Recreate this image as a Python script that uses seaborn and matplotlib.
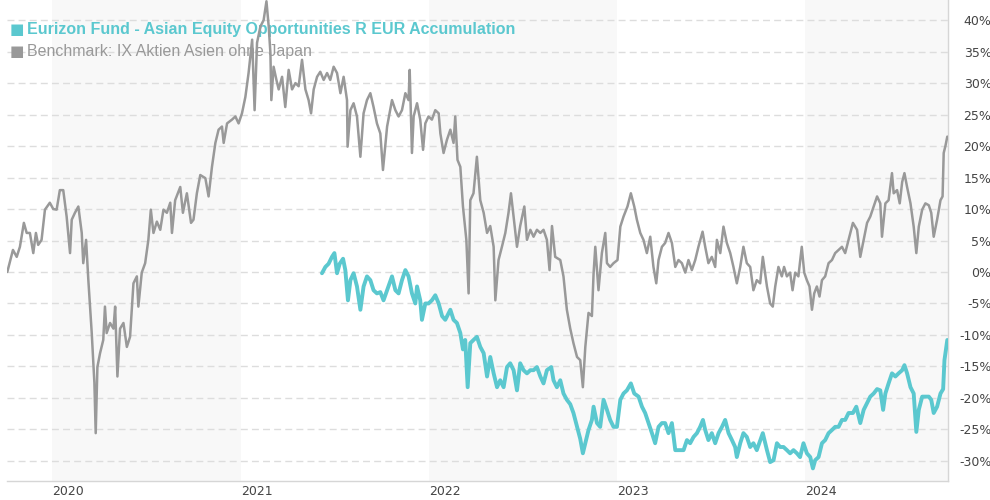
import numpy as np
import pandas as pd
import seaborn as sns
import matplotlib.pyplot as plt
import matplotlib.dates as mdates
from matplotlib.ticker import FixedLocator, FuncFormatter

# Benchmark: IX Aktien Asien ohne Japan (time in decimal years, value in %)
bench_t = [
    2019.763, 2019.793, 2019.813, 2019.830, 2019.851, 2019.866, 2019.883, 2019.901, 2019.915, 2019.927,
    2019.945, 2019.963, 2019.989, 2020.007, 2020.025, 2020.042, 2020.060, 2020.078, 2020.096, 2020.105,
    2020.122, 2020.140, 2020.158, 2020.166, 2020.181, 2020.193, 2020.211, 2020.225, 2020.232, 2020.241,
    2020.255, 2020.272, 2020.281, 2020.290, 2020.308, 2020.326, 2020.335, 2020.347, 2020.361, 2020.379,
    2020.397, 2020.414, 2020.432, 2020.450, 2020.458, 2020.476, 2020.494, 2020.511, 2020.524, 2020.538,
    2020.556, 2020.574, 2020.591, 2020.609, 2020.627, 2020.636, 2020.653, 2020.680, 2020.694, 2020.715,
    2020.737, 2020.750, 2020.768, 2020.786, 2020.813, 2020.830, 2020.848, 2020.866, 2020.883, 2020.901,
    2020.910, 2020.928, 2020.954, 2020.972, 2020.989, 2021.007, 2021.025, 2021.042, 2021.061, 2021.074,
    2021.087, 2021.105, 2021.122, 2021.137, 2021.149, 2021.158, 2021.163, 2021.175, 2021.190, 2021.202,
    2021.220, 2021.237, 2021.255, 2021.273, 2021.291, 2021.308, 2021.326, 2021.344, 2021.361, 2021.374,
    2021.388, 2021.406, 2021.423, 2021.441, 2021.459, 2021.476, 2021.494, 2021.512, 2021.530, 2021.547,
    2021.565, 2021.568, 2021.583, 2021.600, 2021.618, 2021.636, 2021.653, 2021.671, 2021.689, 2021.706,
    2021.724, 2021.742, 2021.756, 2021.778, 2021.804, 2021.822, 2021.839, 2021.857, 2021.875, 2021.892,
    2021.898, 2021.910, 2021.919, 2021.937, 2021.954, 2021.969, 2021.981, 2021.998, 2022.016, 2022.034,
    2022.052, 2022.061, 2022.078, 2022.096, 2022.114, 2022.131, 2022.140, 2022.152, 2022.167, 2022.181,
    2022.199, 2022.211, 2022.220, 2022.237, 2022.255, 2022.273, 2022.291, 2022.309, 2022.326, 2022.344,
    2022.353, 2022.370, 2022.388, 2022.406, 2022.423, 2022.436, 2022.450, 2022.468, 2022.485, 2022.507,
    2022.521, 2022.539, 2022.556, 2022.574, 2022.592, 2022.609, 2022.627, 2022.641, 2022.654, 2022.671,
    2022.698, 2022.715, 2022.733, 2022.751, 2022.768, 2022.787, 2022.804, 2022.818, 2022.831, 2022.848,
    2022.866, 2022.875, 2022.884, 2022.901, 2022.919, 2022.937, 2022.946, 2022.963, 2022.981, 2023.002,
    2023.017, 2023.034, 2023.055, 2023.073, 2023.091, 2023.105, 2023.123, 2023.140, 2023.158, 2023.176,
    2023.193, 2023.208, 2023.220, 2023.238, 2023.255, 2023.273, 2023.291, 2023.309, 2023.326, 2023.344,
    2023.362, 2023.379, 2023.397, 2023.415, 2023.432, 2023.454, 2023.468, 2023.485, 2023.503, 2023.521,
    2023.530, 2023.548, 2023.565, 2023.583, 2023.601, 2023.618, 2023.636, 2023.654, 2023.671, 2023.689,
    2023.707, 2023.724, 2023.742, 2023.760, 2023.774, 2023.796, 2023.813, 2023.827, 2023.840, 2023.857,
    2023.875, 2023.887, 2023.902, 2023.919, 2023.932, 2023.946, 2023.963, 2023.981, 2023.994, 2024.008,
    2024.022, 2024.035, 2024.047, 2024.061, 2024.075, 2024.088, 2024.105, 2024.123, 2024.141, 2024.158,
    2024.176, 2024.194, 2024.211, 2024.229, 2024.252, 2024.274, 2024.291, 2024.309, 2024.327, 2024.344,
    2024.362, 2024.380, 2024.397, 2024.406, 2024.424, 2024.441, 2024.459, 2024.468, 2024.486, 2024.500,
    2024.513, 2024.525, 2024.539, 2024.557, 2024.574, 2024.588, 2024.601, 2024.619, 2024.636, 2024.654,
    2024.667, 2024.680, 2024.698, 2024.716, 2024.727, 2024.733, 2024.742, 2024.752,
]
bench_v = [
    0.0, 3.5, 2.4, 4.0, 7.8, 6.2, 6.2, 3.0, 6.2, 4.3,
    5.1, 9.9, 11.0, 10.0, 9.9, 13.0, 13.0, 8.8, 3.0, 8.3,
    9.4, 10.4, 6.2, 1.4, 5.1, -1.3, -9.7, -17.6, -25.6, -15.1,
    -12.9, -10.8, -5.5, -9.7, -8.1, -9.0, -5.5, -16.6, -9.0, -8.1,
    -11.9, -10.3, -1.8, -0.7, -5.5, -0.1, 1.4, 5.1, 9.9, 6.2,
    8.0, 6.7, 9.9, 9.4, 11.0, 6.2, 11.4, 13.5, 9.4, 12.5,
    7.8, 8.3, 12.5, 15.4, 14.9, 12.0, 16.7, 20.5, 22.6, 23.1,
    20.5, 23.6, 24.2, 24.7, 23.6, 25.2, 27.8, 31.6, 36.9, 25.7,
    36.4, 39.0, 40.0, 43.0, 39.0, 34.8, 27.3, 32.6, 30.5, 29.0,
    31.0, 26.2, 32.1, 29.0, 30.0, 29.5, 33.7, 29.0, 27.3, 25.2,
    29.0, 31.0, 31.8, 30.5, 31.6, 30.5, 32.6, 31.6, 28.4, 31.0,
    27.3, 19.9, 25.7, 26.8, 24.7, 18.3, 25.2, 27.3, 28.4, 26.2,
    23.6, 22.0, 16.2, 23.1, 27.3, 25.7, 24.7, 25.7, 28.4, 27.3,
    32.1, 18.9, 24.7, 26.8, 24.2, 19.4, 23.6, 24.7, 24.2, 25.7,
    25.2, 22.0, 18.9, 21.0, 22.6, 20.5, 24.7, 17.8, 16.7, 10.4,
    5.1, -3.4, 11.4, 12.5, 18.3, 11.4, 9.4, 6.2, 7.3, 4.0,
    -4.5, 1.9, 4.0, 6.2, 9.4, 12.5, 8.8, 4.0, 7.3, 10.4,
    5.1, 6.7, 5.6, 6.7, 6.2, 6.7, 5.1, 0.3, 7.3, 2.4,
    1.9, -0.7, -6.0, -9.0, -11.3, -13.5, -14.0, -18.3, -11.9, -6.5,
    -7.0, -0.2, 4.0, -2.9, 3.0, 6.2, 1.4, 0.8, 1.4, 1.9,
    7.2, 8.8, 10.4, 12.5, 10.4, 8.3, 6.2, 5.1, 3.0, 5.6,
    0.8, -1.8, 1.9, 4.0, 4.6, 6.2, 4.6, 0.8, 1.9, 1.4,
    -0.1, 1.9, 0.3, 1.9, 4.0, 6.4, 4.0, 1.4, 2.4, 0.8,
    5.1, 3.0, 7.2, 4.6, 3.0, 0.8, -1.8, 0.8, 4.0, 1.4,
    0.8, -2.9, -1.3, -1.8, 2.4, -2.3, -5.0, -5.5, -2.3, 0.8,
    -0.7, 0.8, -0.7, -0.1, -2.9, -0.1, -0.7, 4.0, -0.1, -1.3,
    -2.3, -6.0, -3.4, -2.3, -3.9, -1.3, -0.7, 1.4, 1.9, 3.0,
    3.5, 4.0, 3.0, 5.1, 7.8, 6.7, 2.4, 5.1, 7.8, 8.8,
    10.4, 12.0, 10.9, 5.6, 10.9, 11.4, 15.7, 12.5, 13.0, 10.9,
    14.3, 15.7, 13.5, 10.9, 7.2, 3.0, 7.2, 9.9, 10.9, 10.6,
    9.4, 5.6, 8.3, 11.4, 12.0, 18.9, 20.0, 21.5,
]

# Eurizon Fund - Asian Equity Opportunities R EUR Accumulation
fund_t = [
    2021.432, 2021.450, 2021.467, 2021.485, 2021.498, 2021.512, 2021.526, 2021.544, 2021.556, 2021.570,
    2021.583, 2021.600, 2021.618, 2021.636, 2021.653, 2021.671, 2021.689, 2021.706, 2021.724, 2021.742,
    2021.759, 2021.778, 2021.804, 2021.822, 2021.839, 2021.857, 2021.875, 2021.892, 2021.910, 2021.928,
    2021.937, 2021.954, 2021.963, 2021.981, 2021.998, 2022.016, 2022.034, 2022.052, 2022.070, 2022.087,
    2022.114, 2022.131, 2022.149, 2022.167, 2022.181, 2022.193, 2022.206, 2022.220, 2022.237, 2022.255,
    2022.273, 2022.291, 2022.309, 2022.326, 2022.344, 2022.362, 2022.379, 2022.397, 2022.415, 2022.432,
    2022.450, 2022.468, 2022.485, 2022.503, 2022.521, 2022.539, 2022.556, 2022.574, 2022.592, 2022.609,
    2022.627, 2022.650, 2022.662, 2022.680, 2022.698, 2022.715, 2022.733, 2022.751, 2022.768, 2022.787,
    2022.804, 2022.818, 2022.831, 2022.848, 2022.866, 2022.875, 2022.893, 2022.910, 2022.928, 2022.946,
    2022.963, 2022.981, 2022.999, 2023.017, 2023.034, 2023.052, 2023.073, 2023.091, 2023.114, 2023.132,
    2023.149, 2023.167, 2023.185, 2023.202, 2023.220, 2023.238, 2023.255, 2023.273, 2023.291, 2023.309,
    2023.326, 2023.353, 2023.371, 2023.388, 2023.406, 2023.424, 2023.441, 2023.456, 2023.468, 2023.485,
    2023.503, 2023.521, 2023.539, 2023.557, 2023.574, 2023.592, 2023.610, 2023.627, 2023.636, 2023.654,
    2023.671, 2023.689, 2023.707, 2023.724, 2023.742, 2023.760, 2023.774, 2023.796, 2023.813, 2023.831,
    2023.849, 2023.866, 2023.884, 2023.902, 2023.919, 2023.937, 2023.955, 2023.972, 2023.990, 2024.008,
    2024.026, 2024.040, 2024.052, 2024.070, 2024.088, 2024.105, 2024.123, 2024.141, 2024.158, 2024.176,
    2024.194, 2024.211, 2024.229, 2024.252, 2024.270, 2024.291, 2024.309, 2024.327, 2024.344, 2024.362,
    2024.380, 2024.397, 2024.412, 2024.424, 2024.441, 2024.459, 2024.477, 2024.494, 2024.513, 2024.525,
    2024.539, 2024.557, 2024.574, 2024.588, 2024.601, 2024.619, 2024.636, 2024.654, 2024.667, 2024.680,
    2024.698, 2024.716, 2024.730, 2024.737, 2024.752,
]
fund_v = [
    -0.2, 0.8, 1.3, 2.4, 3.0, -0.2, 1.3, 2.1, 0.3, -4.5,
    -1.3, -0.2, -2.3, -6.0, -2.3, -0.7, -1.3, -2.9, -3.4, -3.2,
    -4.5, -2.9, -0.7, -2.9, -3.4, -1.3, 0.3, -0.7, -3.4, -5.0,
    -2.3, -4.5, -7.6, -5.0, -5.0, -4.5, -3.7, -5.0, -7.0, -7.6,
    -6.0, -7.6, -8.1, -9.7, -12.3, -10.8, -18.3, -11.3, -10.8, -10.3,
    -11.9, -12.9, -16.6, -13.5, -16.1, -18.3, -17.2, -18.3, -15.1, -14.5,
    -15.6, -18.8, -14.5, -15.6, -16.1, -15.6, -15.6, -15.1, -16.6, -17.7,
    -15.6, -15.1, -17.2, -18.3, -17.2, -19.3, -20.3, -21.0, -22.4, -24.6,
    -26.5, -28.8, -27.2, -25.1, -23.5, -21.4, -24.0, -24.6, -20.3, -21.9,
    -23.5, -24.6, -24.6, -20.3, -19.3, -18.8, -17.7, -19.3, -19.8, -21.4,
    -22.4, -24.0, -25.6, -27.2, -24.6, -24.0, -24.0, -25.6, -24.0, -28.3,
    -28.3, -28.3, -26.7, -27.2, -26.2, -25.6, -24.6, -23.5, -25.1, -26.7,
    -25.6, -27.2, -25.6, -24.6, -23.5, -25.6, -26.7, -27.8, -29.4, -27.2,
    -25.6, -26.2, -27.8, -27.2, -28.3, -26.8, -25.6, -28.3, -30.2, -29.9,
    -27.2, -27.8, -27.8, -28.3, -28.8, -28.3, -28.8, -29.4, -27.2, -28.8,
    -29.4, -31.2, -29.9, -29.4, -27.2, -26.7, -25.6, -25.1, -24.6, -24.6,
    -23.5, -23.5, -22.4, -22.4, -21.4, -24.0, -21.9, -20.8, -19.8, -19.3,
    -18.6, -18.8, -21.9, -19.3, -17.7, -16.1, -16.6, -16.1, -15.6, -14.8,
    -16.1, -18.3, -19.3, -25.4, -21.9, -19.8, -19.8, -19.8, -20.3, -22.4,
    -21.4, -19.3, -18.6, -14.0, -10.8,
]

fund_name = "Eurizon Fund - Asian Equity Opportunities R EUR Accumulation"
bench_name = "Benchmark: IX Aktien Asien ohne Japan"
years = [2020, 2021, 2022, 2023, 2024]
shaded_years = [2020, 2022, 2024]
y_ticks = [-30, -25, -20, -15, -10, -5, 0, 5, 10, 15, 20, 25, 30, 35, 40]

teal = "#5bc8cf"
grey = "#999999"


def to_date(t):
    y = int(np.floor(t))
    start = pd.Timestamp(y, 1, 1)
    span = (pd.Timestamp(y + 1, 1, 1) - start).days
    return start + pd.Timedelta(days=(t - y) * span)


bench = pd.DataFrame({"date": [to_date(t) for t in bench_t], "value": bench_v})
fund = pd.DataFrame({"date": [to_date(t) for t in fund_t], "value": fund_v})

sns.set_style("white")
plt.rcParams["font.family"] = ["DejaVu Sans"]

fig = plt.figure(figsize=(9.9, 5.0), dpi=100)
ax = fig.add_axes([0.007, 0.038, 0.951, 0.962])

# alternating year bands
for y in shaded_years:
    ax.axvspan(pd.Timestamp(y, 1, 1), pd.Timestamp(y + 1, 1, 1), color="#f8f8f8", zorder=0, lw=0)

for v in y_ticks:
    ax.axhline(v, color="#dddddd", lw=1, dashes=(5, 3), zorder=1)

sns.lineplot(data=bench, x="date", y="value", ax=ax, color=grey, lw=1.8, zorder=3)
sns.lineplot(data=fund, x="date", y="value", ax=ax, color=teal, lw=2.8, zorder=4)

ax.set_xlim(to_date(2019.761), to_date(2024.758))
ax.set_ylim(-33.2, 43.2)

ax.yaxis.tick_right()
ax.yaxis.set_major_locator(FixedLocator(y_ticks))
ax.yaxis.set_major_formatter(FuncFormatter(lambda v, p: f"{int(v)}%"))
ax.tick_params(axis="y", length=0, pad=31, labelsize=9, labelcolor="#444444")
for lab in ax.get_yticklabels():
    lab.set_horizontalalignment("right")

ax.set_xticks([pd.Timestamp(y, 1, 1) for y in years])
ax.xaxis.set_major_formatter(mdates.DateFormatter("%Y"))
ax.tick_params(axis="x", length=0, pad=3, labelsize=9, labelcolor="#444444")
for lab in ax.get_xticklabels():
    lab.set_horizontalalignment("left")

ax.set_xlabel("")
ax.set_ylabel("")
for s in ["left", "top"]:
    ax.spines[s].set_visible(False)
for s in ["bottom", "right"]:
    ax.spines[s].set_color("#d6d6d6")
    ax.spines[s].set_linewidth(1)

# legend sits underneath the lines, as in the original
ax.text(0.003, 0.938, "\u25a0", transform=ax.transAxes, color=teal, fontsize=11,
        family="DejaVu Sans", va="center", zorder=2)
ax.text(0.021, 0.938, fund_name, transform=ax.transAxes, color=teal, fontsize=11.5,
        family="Liberation Sans", weight="bold", va="center", zorder=2)
ax.text(0.003, 0.892, "\u25a0", transform=ax.transAxes, color=grey, fontsize=11,
        family="DejaVu Sans", va="center", zorder=2)
ax.text(0.021, 0.892, bench_name, transform=ax.transAxes, color=grey, fontsize=11.5,
        family="Liberation Sans", va="center", zorder=2)

fig.savefig("out.png", dpi=100)
